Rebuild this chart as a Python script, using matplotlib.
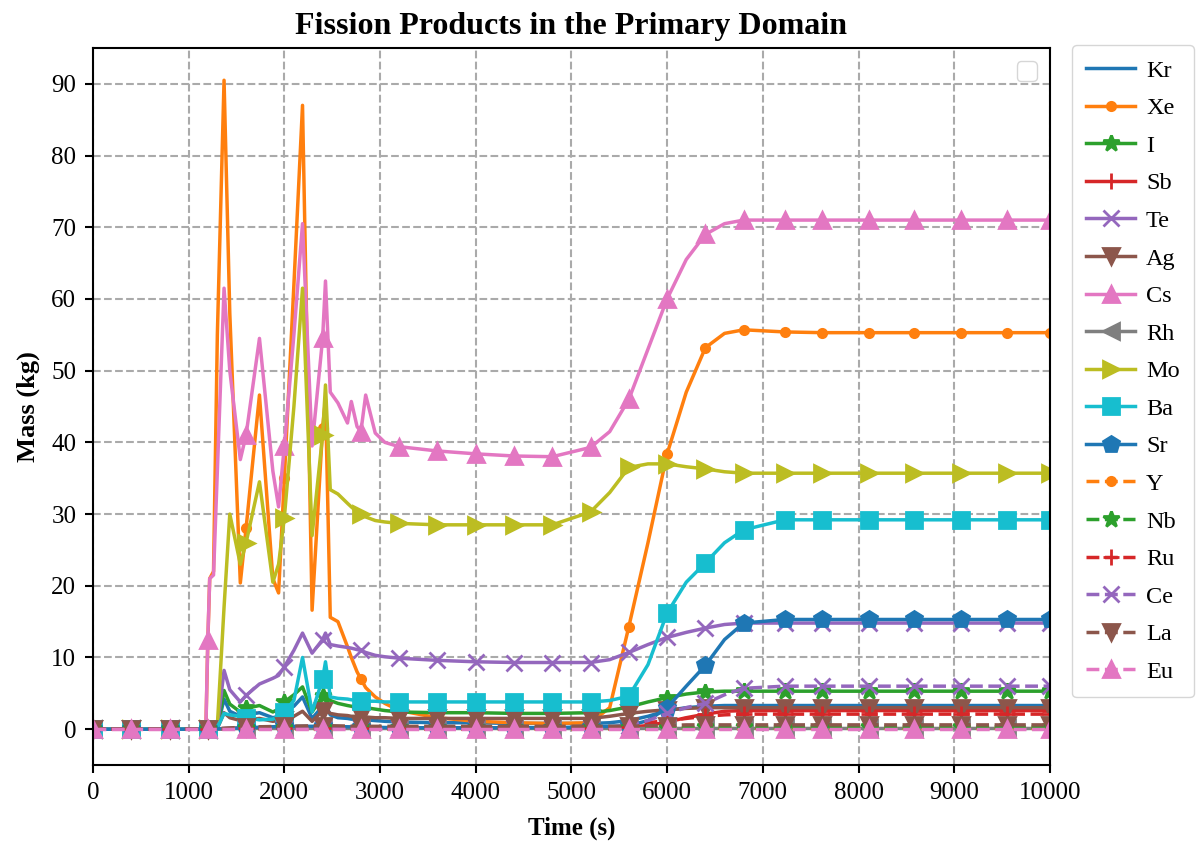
import matplotlib
matplotlib.use("Agg")
import matplotlib.pyplot as plt

# times where the markers sit
MARK_T = [0, 400, 800, 1200, 1600, 2000, 2400, 2800, 3200, 3600, 4000, 4400, 4800,
          5200, 5600, 6000, 6400, 6800, 7230, 7620, 8110, 8580, 9070, 9550, 10000]

# fine time grid for the series with spikes
T = [0, 400, 800, 1180, 1200, 1220, 1260, 1300, 1370, 1430, 1540, 1600, 1740, 1880,
     1940, 2000, 2100, 2190, 2290, 2400, 2430, 2480, 2560, 2660, 2700, 2760, 2800,
     2850, 2950, 3050, 3200, 3600, 4000, 4400, 4800, 5200, 5400, 5600, 5800, 6000,
     6200, 6400, 6600, 6800, 7230, 7620, 8110, 8580, 9070, 9550, 10000]

kr = [0, 0, 0, 0, 0, 0, 0, 0.2, 4.2, 2.5, 1.8, 2.0, 2.3, 1.6,
      1.8, 2.6, 3.2, 4.5, 1.5, 3.2, 3.5, 2.0, 1.6, 1.5, 1.4, 1.4, 1.3,
      1.3, 1.2, 1.1, 1.0, 0.9, 0.9, 0.8, 0.8, 0.8, 0.9, 1.2, 1.8, 2.6,
      3.0, 3.2, 3.3, 3.3, 3.3, 3.3, 3.3, 3.3, 3.3, 3.3, 3.3]
xe = [0, 0, 0, 0, 12, 21, 22, 55, 90.5, 58, 20.4, 28, 46.6, 21,
      19, 35, 62, 87, 16.6, 42, 46, 15.6, 15, 11.5, 10, 8, 7.0,
      5.8, 4.5, 3.6, 2.6, 1.6, 1.1, 0.9, 0.8, 0.9, 3, 14.3, 26, 38.4,
      47, 53.2, 55.2, 55.7, 55.4, 55.3, 55.3, 55.3, 55.3, 55.3, 55.3]
iod = [0, 0, 0, 0, 0, 0, 0, 0.2, 5.4, 3.5, 2.4, 2.9, 3.3, 2.4,
       2.8, 3.8, 4.8, 5.9, 2.4, 4.6, 5.0, 4.0, 3.6, 3.3, 3.2, 3.1, 3.1,
       3.0, 2.8, 2.6, 2.4, 2.3, 2.3, 2.2, 2.2, 2.3, 2.6, 3.1, 3.8, 4.4,
       4.9, 5.2, 5.3, 5.3, 5.3, 5.3, 5.3, 5.3, 5.3, 5.3, 5.3]
te = [0, 0, 0, 0, 0, 0, 0, 0.3, 8.2, 5.5, 3.8, 4.7, 6.3, 7.1,
      7.5, 8.7, 11, 13.4, 10.6, 12.5, 13.4, 11.8, 11.6, 11.4, 11.3, 11.1, 11,
      10.7, 10.3, 10.1, 9.9, 9.6, 9.4, 9.3, 9.3, 9.3, 9.7, 10.7, 11.8, 12.8,
      13.5, 14.1, 14.6, 14.8, 14.8, 14.8, 14.8, 14.8, 14.8, 14.8, 14.8]
ag = [0, 0, 0, 0, 0, 0, 0, 0.1, 2.3, 1.6, 1.2, 1.3, 1.5, 1.1,
      1.2, 1.3, 1.8, 2.5, 1.1, 2.6, 2.8, 2.2, 2.0, 1.9, 1.8, 1.8, 1.8,
      1.7, 1.6, 1.6, 1.5, 1.5, 1.5, 1.5, 1.5, 1.5, 1.8, 2.2, 2.5, 2.7,
      2.9, 3.0, 3.0, 3.0, 3.0, 3.0, 3.0, 3.0, 3.0, 3.0, 3.0]
cs = [0, 0, 0, 0, 12.4, 21, 21.5, 36, 61.5, 50, 37.6, 41, 54.5, 36,
      31, 39.5, 55, 70.5, 39.5, 54.5, 62.5, 47, 45.5, 42.7, 45.7, 42.2, 41.5,
      46.6, 41.3, 40, 39.4, 38.8, 38.4, 38.1, 38, 39.3, 41.5, 46, 53, 60,
      65.5, 69, 70.5, 71, 71, 71, 71, 71, 71, 71, 71]
mo = [0, 0, 0, 0, 0, 0, 0, 0.5, 17, 30, 23, 26, 34.5, 20.5,
      23, 29.5, 45, 61.5, 27, 41, 48, 33.4, 32.8, 31.5, 31, 30.3, 30,
      29.6, 29.1, 28.9, 28.7, 28.5, 28.5, 28.5, 28.5, 30.3, 33, 36.5, 37, 37,
      36.6, 36.3, 35.9, 35.7, 35.7, 35.7, 35.7, 35.7, 35.7, 35.7, 35.7]
ba = [0, 0, 0, 0, 0, 0, 0, 0.2, 2.2, 2.0, 1.8, 1.6, 1.3, 1.4,
      1.8, 2.4, 4, 10, 2.4, 7.0, 9.4, 4.5, 4.3, 4.2, 4.1, 4.0, 4.0,
      3.9, 3.9, 3.8, 3.8, 3.8, 3.8, 3.8, 3.8, 3.8, 4.0, 4.6, 9, 16.2,
      20.5, 23.2, 26, 27.8, 29.2, 29.2, 29.2, 29.2, 29.2, 29.2, 29.2]

# coarse grid for the quiet series
TC = [0, 400, 800, 1200, 1600, 2000, 2400, 2800, 3200, 3600, 4000, 4400, 4800, 5200,
      5600, 5800, 6000, 6200, 6400, 6600, 6800, 7230, 7620, 8110, 8580, 9070, 9550, 10000]

sb = [0, 0, 0, 0, 0.2, 0.2, 0.3, 0.2, 0.2, 0.2, 0.2, 0.2, 0.2, 0.2,
      0.3, 0.5, 1.0, 1.6, 2.1, 2.5, 2.6, 2.6, 2.6, 2.6, 2.6, 2.6, 2.6, 2.6]
rh = [0, 0, 0, 0, 0.1, 0.1, 0.1, 0.1, 0.1, 0.1, 0.1, 0.1, 0.1, 0.1,
      0.1, 0.1, 0.1, 0.1, 0.1, 0.1, 0.1, 0.1, 0.1, 0.1, 0.1, 0.1, 0.1, 0.1]
sr = [0, 0, 0, 0, 0.2, 0.4, 0.4, 0.3, 0.2, 0.2, 0.2, 0.2, 0.2, 0.3,
      0.5, 1.2, 3.0, 6.0, 8.9, 12.5, 14.8, 15.3, 15.3, 15.3, 15.3, 15.3, 15.3, 15.3]
y_ = [0, 0, 0, 0, 0, 0, 0, 0, 0, 0, 0, 0, 0, 0,
      0, 0, 0.1, 0.1, 0.1, 0.1, 0.1, 0.1, 0.1, 0.1, 0.1, 0.1, 0.1, 0.1]
nb = [0, 0, 0, 0, 0.1, 0.1, 0.1, 0.1, 0.1, 0.1, 0.1, 0.1, 0.1, 0.1,
      0.1, 0.1, 0.2, 0.2, 0.3, 0.3, 0.3, 0.3, 0.3, 0.3, 0.3, 0.3, 0.3, 0.3]
ru = [0, 0, 0, 0, 0.1, 0.1, 0.2, 0.1, 0.1, 0.1, 0.1, 0.1, 0.1, 0.1,
      0.3, 0.9, 1.2, 1.5, 1.8, 2.0, 2.1, 2.1, 2.1, 2.1, 2.1, 2.1, 2.1, 2.1]
ce = [0, 0, 0, 0, 0.1, 0.1, 0.1, 0.1, 0.1, 0.1, 0.1, 0.1, 0.1, 0.1,
      0.5, 1.2, 2.2, 3.0, 3.6, 4.8, 5.7, 6.0, 6.0, 6.0, 6.0, 6.0, 6.0, 6.0]
la = [0, 0, 0, 0, 0.3, 0.4, 0.5, 0.4, 0.4, 0.4, 0.4, 0.4, 0.4, 0.4,
      0.4, 0.5, 0.5, 0.6, 0.6, 0.6, 0.6, 0.6, 0.6, 0.6, 0.6, 0.6, 0.6, 0.6]
eu = [0, 0, 0, 0, 0, 0, 0, 0, 0, 0, 0, 0, 0, 0,
      0, 0, 0, 0, 0, 0, 0, 0, 0, 0, 0, 0, 0, 0]

# name, times, values, marker, linestyle, color
series = [
    ("Kr", T, kr, None, "-", "C0"),
    ("Xe", T, xe, "o", "-", "C1"),
    ("I", T, iod, "*", "-", "C2"),
    ("Sb", TC, sb, "+", "-", "C3"),
    ("Te", T, te, "x", "-", "C4"),
    ("Ag", T, ag, "v", "-", "C5"),
    ("Cs", T, cs, "^", "-", "C6"),
    ("Rh", TC, rh, "<", "-", "C7"),
    ("Mo", T, mo, ">", "-", "C8"),
    ("Ba", T, ba, "s", "-", "C9"),
    ("Sr", TC, sr, "p", "-", "C0"),
    ("Y", TC, y_, "o", "--", "C1"),
    ("Nb", TC, nb, "*", "--", "C2"),
    ("Ru", TC, ru, "+", "--", "C3"),
    ("Ce", TC, ce, "x", "--", "C4"),
    ("La", TC, la, "v", "--", "C5"),
    ("Eu", TC, eu, "^", "--", "C6"),
]

msizes = {"o": 6, "*": 12, "+": 12, "x": 11, "v": 11, "^": 11, "<": 11,
          ">": 11, "s": 11, "p": 12}

plt.rcParams['font.family'] = ['Liberation Serif', 'DejaVu Serif']

fig = plt.figure(figsize=(12.04, 8.42), dpi=100)
ax = fig.add_axes([0.0772, 0.0914, 0.7948, 0.8516])

handles = []
for name, t, v, m, ls, c in series:
    if m is None:
        h, = ax.plot(t, v, ls, color=c, lw=2.5, label=name)
    else:
        idx = [i for i, tt in enumerate(t) if tt in MARK_T]
        h, = ax.plot(t, v, linestyle=ls, color=c, lw=2.5, marker=m,
                     markersize=msizes[m], markevery=idx, mew=2, label=name)
    handles.append(h)

ax.set_xlim(0, 10000)
ax.set_ylim(-5, 95)
ax.set_xticks(range(0, 10001, 1000))
ax.set_yticks(range(0, 91, 10))
ax.tick_params(labelsize=18, width=1.5, length=6, pad=6)
ax.grid(True, linestyle="--", color="#aaaaaa", lw=1.5)
for sp in ax.spines.values():
    sp.set_linewidth(1.5)

ax.set_title("Fission Products in the Primary Domain", fontsize=23,
             fontweight="bold", pad=10)
ax.set_xlabel("Time (s)", fontsize=18, fontweight="bold", labelpad=9)
ax.set_ylabel("Mass (kg)", fontsize=19, fontweight="bold", labelpad=8)

# empty legend box left inside the axes
empty = ax.legend(handles=[], loc="upper right", fontsize=16, borderpad=0.45,
                  borderaxespad=0.6)
ax.add_artist(empty)

ax.legend(handles=handles, loc="upper left", bbox_to_anchor=(1.023, 1.004),
          fontsize=17.5, handlelength=2.0, handletextpad=0.45, labelspacing=0.64,
          borderpad=0.6, borderaxespad=0)

fig.savefig("out.png", dpi=100)
